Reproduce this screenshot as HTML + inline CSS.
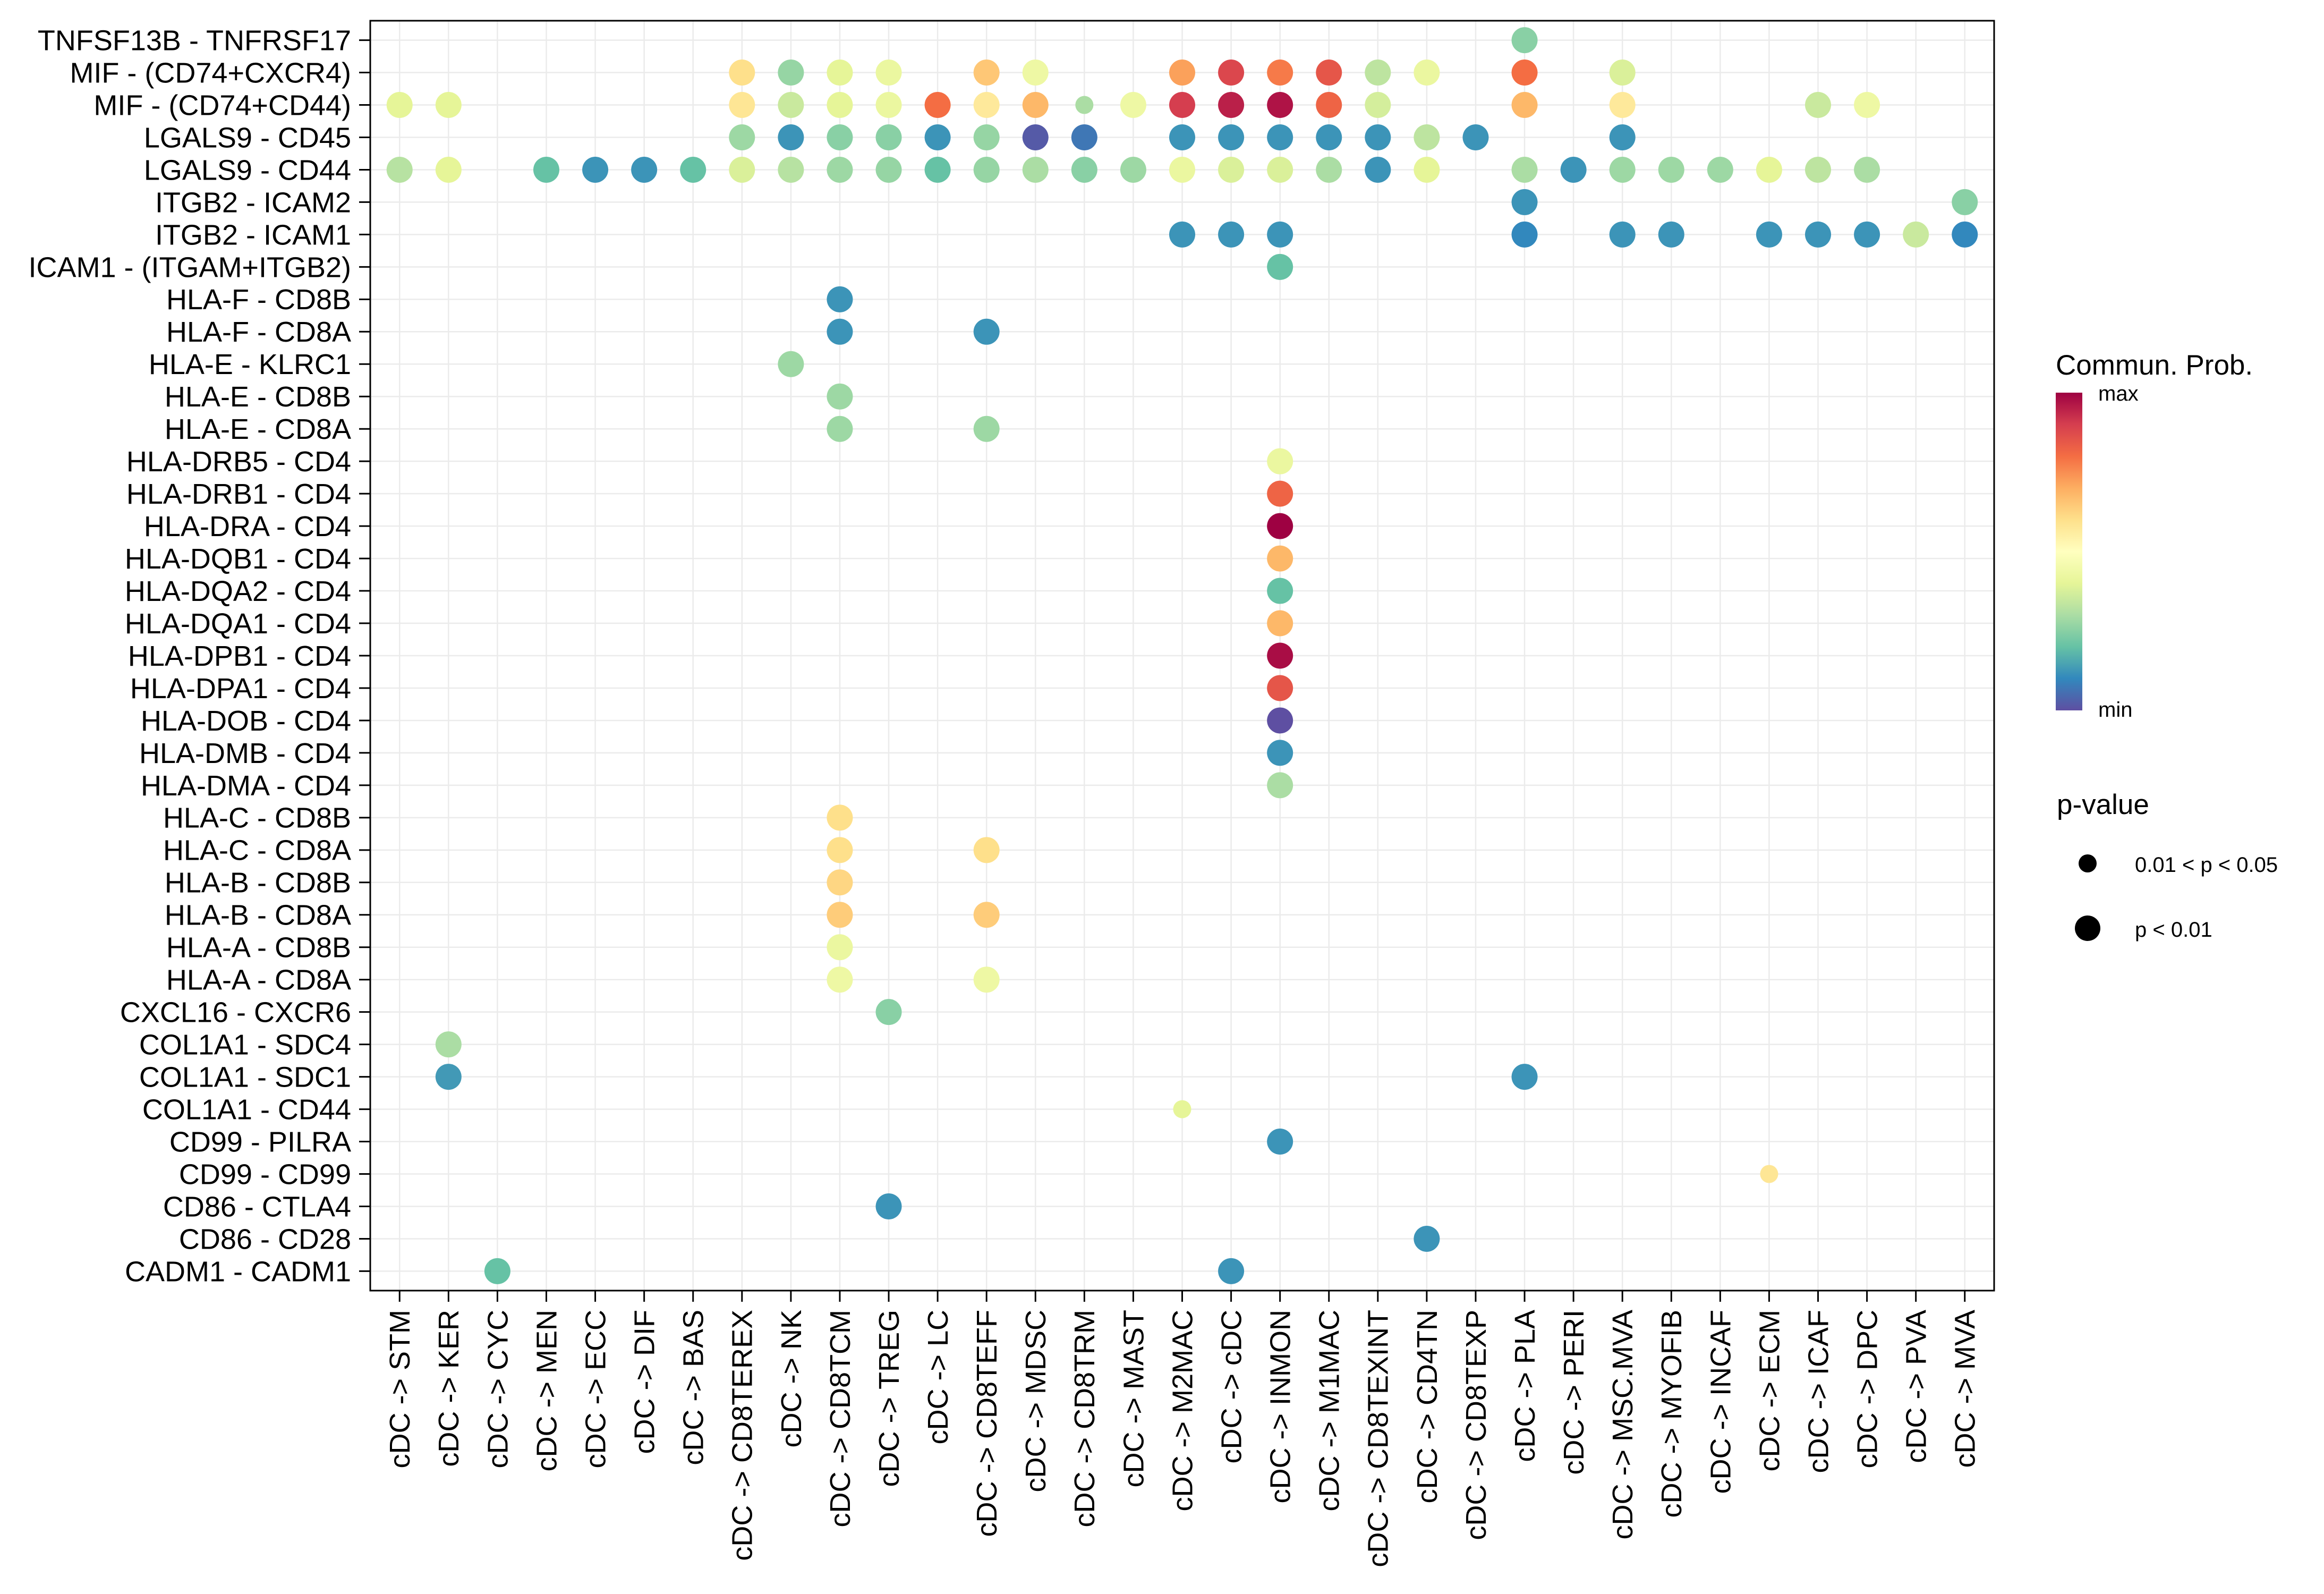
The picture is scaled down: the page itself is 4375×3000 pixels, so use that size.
<!DOCTYPE html>
<html><head><meta charset="utf-8"><style>
html,body{margin:0;padding:0;background:#fff;}
svg{display:block;font-family:"Liberation Sans",Arial,sans-serif;}
</style></head><body>
<svg id="chart" xmlns="http://www.w3.org/2000/svg" width="4375" height="3000" viewBox="0 0 4375 3000">
<defs>
<linearGradient id="spec" x1="0" y1="0" x2="0" y2="1">
<stop offset="0" stop-color="#9E0142"/><stop offset="0.1" stop-color="#D53E4F"/><stop offset="0.2" stop-color="#F46D43"/><stop offset="0.3" stop-color="#FDAE61"/><stop offset="0.4" stop-color="#FEE08B"/><stop offset="0.5" stop-color="#FFFFBF"/><stop offset="0.6" stop-color="#E6F598"/><stop offset="0.7" stop-color="#ABDDA4"/><stop offset="0.8" stop-color="#66C2A5"/><stop offset="0.9" stop-color="#3288BD"/><stop offset="1" stop-color="#5E4FA2"/>
</linearGradient>
</defs>
<g id="grid"></g>
<g id="dots"></g>
<rect x="697" y="39" width="3057" height="2390" fill="none" stroke="#000" stroke-width="3"/>
<g id="yaxis"></g>
<g id="xaxis"></g>
<g>
<text x="3870" y="705" font-size="53">Commun. Prob.</text>
<rect x="3870" y="739" width="50" height="598" fill="url(#spec)"/>
<text x="3950" y="754" font-size="40">max</text>
<text x="3950" y="1349" font-size="40">min</text>
</g>
<g>
<text x="3872" y="1532" font-size="53">p-value</text>
<circle cx="3930" cy="1625" r="17" fill="#000"/>
<text x="4019" y="1641" font-size="40">0.01 &lt; p &lt; 0.05</text>
<circle cx="3930" cy="1747" r="24" fill="#000"/>
<text x="4019" y="1763" font-size="40">p &lt; 0.01</text>
</g>
</svg>
<script>
const targets = ["STM","KER","CYC","MEN","ECC","DIF","BAS","CD8TEREX","NK","CD8TCM","TREG","LC","CD8TEFF","MDSC","CD8TRM","MAST","M2MAC","cDC","INMON","M1MAC","CD8TEXINT","CD4TN","CD8TEXP","PLA","PERI","MSC.MVA","MYOFIB","INCAF","ECM","ICAF","DPC","PVA","MVA"];
const pairs = ["TNFSF13B - TNFRSF17","MIF - (CD74+CXCR4)","MIF - (CD74+CD44)","LGALS9 - CD45","LGALS9 - CD44","ITGB2 - ICAM2","ITGB2 - ICAM1","ICAM1 - (ITGAM+ITGB2)","HLA-F - CD8B","HLA-F - CD8A","HLA-E - KLRC1","HLA-E - CD8B","HLA-E - CD8A","HLA-DRB5 - CD4","HLA-DRB1 - CD4","HLA-DRA - CD4","HLA-DQB1 - CD4","HLA-DQA2 - CD4","HLA-DQA1 - CD4","HLA-DPB1 - CD4","HLA-DPA1 - CD4","HLA-DOB - CD4","HLA-DMB - CD4","HLA-DMA - CD4","HLA-C - CD8B","HLA-C - CD8A","HLA-B - CD8B","HLA-B - CD8A","HLA-A - CD8B","HLA-A - CD8A","CXCL16 - CXCR6","COL1A1 - SDC4","COL1A1 - SDC1","COL1A1 - CD44","CD99 - PILRA","CD99 - CD99","CD86 - CTLA4","CD86 - CD28","CADM1 - CADM1"];
const dotPair = [0, 1,1,1,1,1,1,1,1,1,1,1,1,1,1, 2,2,2,2,2,2,2,2,2,2,2,2,2,2,2,2,2,2,2,2, 3,3,3,3,3,3,3,3,3,3,3,3,3,3,3,3, 4,4,4,4,4,4,4,4,4,4,4,4,4,4,4,4,4,4,4,4,4,4,4,4,4,4,4,4,4, 5,5, 6,6,6,6,6,6,6,6,6,6,6, 7, 8, 9,9, 10, 11, 12,12, 13,14,15,16,17,18,19,20,21,22,23, 24, 25,25, 26, 27,27, 28, 29,29, 30, 31, 32,32, 33, 34, 35, 36, 37, 38,38];
const dotTarget = [23, 7,8,9,10,12,13,16,17,18,19,20,21,23,25, 0,1,7,8,9,10,11,12,13,14,15,16,17,18,19,20,23,25,29,30, 7,8,9,10,11,12,13,14,16,17,18,19,20,21,22,25, 0,1,3,4,5,6,7,8,9,10,11,12,13,14,15,16,17,18,19,20,21,23,24,25,26,27,28,29,30, 23,32, 16,17,18,23,25,26,28,29,30,31,32, 18, 9, 9,12, 8, 9, 9,12, 18,18,18,18,18,18,18,18,18,18,18, 9, 9,12, 9, 9,12, 9, 9,12, 10, 1, 1,23, 16, 18, 28, 10, 21, 2,17];
const dotProb = [0.25, 0.6,0.27,0.4,0.42,0.65,0.43,0.72,0.88,0.78,0.85,0.33,0.42,0.8,0.38, 0.4,0.4,0.58,0.35,0.4,0.42,0.8,0.57,0.68,0.3,0.43,0.9,0.95,0.97,0.82,0.37,0.68,0.57,0.35,0.43, 0.28,0.12,0.25,0.25,0.12,0.27,0.02,0.07,0.12,0.12,0.12,0.12,0.12,0.33,0.12,0.12, 0.32,0.4,0.2,0.12,0.12,0.2,0.38,0.32,0.28,0.27,0.2,0.27,0.3,0.25,0.28,0.42,0.38,0.38,0.3,0.12,0.4,0.3,0.12,0.28,0.28,0.28,0.4,0.33,0.3, 0.12,0.25, 0.12,0.12,0.12,0.1,0.12,0.12,0.12,0.12,0.12,0.35,0.1, 0.2, 0.12, 0.12,0.12, 0.28, 0.28, 0.28,0.28, 0.42,0.82,1.0,0.68,0.2,0.68,0.98,0.85,0.0,0.12,0.3, 0.6, 0.6,0.6, 0.62, 0.64,0.64, 0.42, 0.43,0.43, 0.25, 0.3, 0.13,0.12, 0.4, 0.12, 0.58, 0.12, 0.12, 0.2,0.12];
const dotSig = [1, 1,1,1,1,1,1,1,1,1,1,1,1,1,1, 1,1,1,1,1,1,1,1,1,0,1,1,1,1,1,1,1,1,1,1, 1,1,1,1,1,1,1,1,1,1,1,1,1,1,1,1, 1,1,1,1,1,1,1,1,1,1,1,1,1,1,1,1,1,1,1,1,1,1,1,1,1,1,1,1,1, 1,1, 1,1,1,1,1,1,1,1,1,1,1, 1, 1, 1,1, 1, 1, 1,1, 1,1,1,1,1,1,1,1,1,1,1, 1, 1,1, 1, 1,1, 1, 1,1, 1, 1, 1,1, 0, 1, 0, 1, 1, 1,1];

const NS = "http://www.w3.org/2000/svg";
const PL = 697, PR = 3754, PT = 39, PB = 2429;
const xStep = (PR - PL) / (targets.length - 1 + 1.2);
const yStep = (PB - PT) / (pairs.length - 1 + 1.2);
function xPos(i){ return PL + 0.6 * xStep + i * xStep; }
function yPos(i){ return PT + 0.6 * yStep + i * yStep; }
const pal = ["#5E4FA2","#3288BD","#66C2A5","#ABDDA4","#E6F598","#FFFFBF","#FEE08B","#FDAE61","#F46D43","#D53E4F","#9E0142"];
function hex(c){ return [parseInt(c.slice(1,3),16),parseInt(c.slice(3,5),16),parseInt(c.slice(5,7),16)]; }
function colorOf(v){
  v = Math.max(0, Math.min(1, v));
  const t = v * (pal.length - 1), i = Math.min(Math.floor(t), pal.length - 2), f = t - i;
  const a = hex(pal[i]), b = hex(pal[i+1]);
  return "rgb(" + [0,1,2].map(k => Math.round(a[k] + (b[k]-a[k]) * f)).join(",") + ")";
}
function mk(tag, attrs, parent){
  const e = document.createElementNS(NS, tag);
  for (const k in attrs) e.setAttribute(k, attrs[k]);
  parent.appendChild(e);
  return e;
}
const grid = document.getElementById("grid");
targets.forEach((t, i) => {
  const l = mk("line", {x1: xPos(i), x2: xPos(i), y1: PT, y2: PB, stroke: "#EBEBEB", "stroke-width": 2.5}, grid);
  
  
});
pairs.forEach((p, i) => {
  const l = mk("line", {x1: PL, x2: PR, y1: yPos(i), y2: yPos(i), stroke: "#EBEBEB", "stroke-width": 2.5}, grid);
  
  
});
const yax = document.getElementById("yaxis");
pairs.forEach((p, i) => {
  const tk = mk("line", {x1: PL - 21, x2: PL, y1: yPos(i), y2: yPos(i), stroke: "#000", "stroke-width": 3}, yax);
  
  
  const tx = mk("text", {x: PL - 36, y: yPos(i), "text-anchor": "end", dy: "0.35em", "font-size": 54}, yax);
  tx.textContent = p;
  
  
});
const xax = document.getElementById("xaxis");
targets.forEach((t, i) => {
  const tk = mk("line", {x1: xPos(i), x2: xPos(i), y1: PB, y2: PB + 21, stroke: "#000", "stroke-width": 3}, xax);
  
  
  const tx = mk("text", {x: 0, y: 0, "text-anchor": "end", dy: "0.35em", "font-size": 54, transform: "translate(" + xPos(i) + "," + (PB + 36) + ") rotate(-90)"}, xax);
  tx.textContent = "cDC -> " + t;
  
  
});
const dots = document.getElementById("dots");
dotPair.forEach((p, k) => {
  const c = mk("circle", {cx: xPos(dotTarget[k]), cy: yPos(p), r: dotSig[k] ? 24.5 : 17, fill: colorOf(dotProb[k])}, dots);
  
  
});
</script>
</body></html>
